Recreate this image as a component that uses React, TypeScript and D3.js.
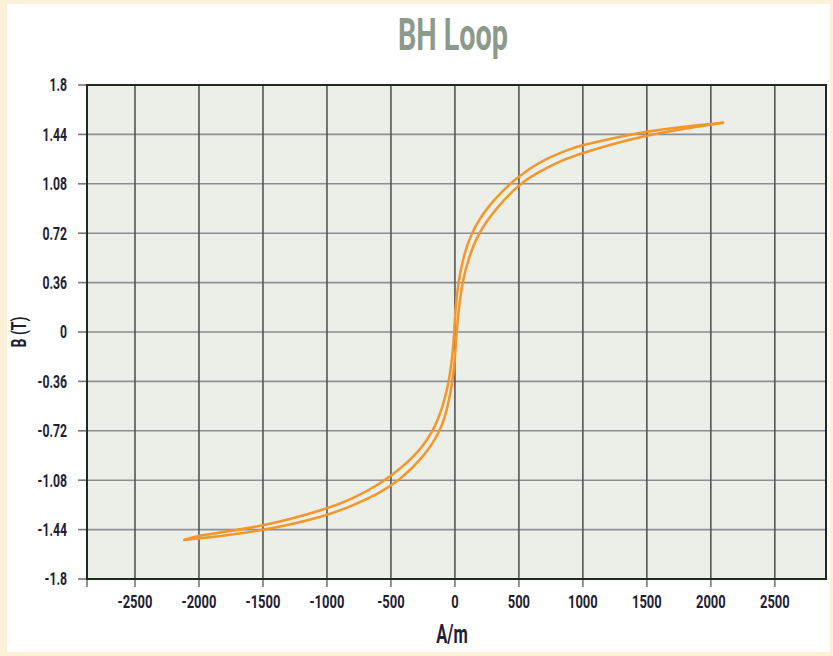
import * as d3 from "d3";

// descending branch (from +Hmax down to -Hmax)
const hDesc = [2095, 2000, 1500, 1000, 935, 701, 507, 429, 247, 125, 65, 26, 5, -5, -20, -45, -95, -165, -310, -500, -620, -800, -1000, -1500, -2000, -2115];
const bDesc = [1.525, 1.518, 1.469, 1.362, 1.345, 1.262, 1.14, 1.08, 0.907, 0.72, 0.545, 0.36, 0.18, 0, -0.18, -0.36, -0.545, -0.72, -0.907, -1.05, -1.125, -1.215, -1.29, -1.42, -1.48, -1.515];

// ascending branch (from -Hmax back up to +Hmax)
const hAsc = [-2115, -2000, -1500, -1000, -800, -600, -429, -240, -110, -55, -18, 2, 13, 31, 57, 109, 182, 325, 507, 623, 818, 1000, 1500, 2000, 2095];
const bAsc = [-1.515, -1.505, -1.45, -1.34, -1.265, -1.18, -1.08, -0.907, -0.72, -0.545, -0.36, -0.18, 0, 0.18, 0.36, 0.545, 0.72, 0.907, 1.08, 1.15, 1.246, 1.307, 1.44, 1.51, 1.525];

const xTicks = [-2500, -2000, -1500, -1000, -500, 0, 500, 1000, 1500, 2000, 2500];
const yTicks = [-1.8, -1.44, -1.08, -0.72, -0.36, 0, 0.36, 0.72, 1.08, 1.44, 1.8];

const W = 833;
const H = 656;
const margin = { left: 87, right: 7, top: 85, bottom: 77 };
const FONT = "Roboto, 'DejaVu Sans', sans-serif";
const INK = "#1d2133";

// condensed text: the original font is a narrow one, squeeze a regular one
const CText = ({
  x,
  y,
  size,
  anchor = "middle",
  sx = 0.7,
  fill = INK,
  rotate,
  dy,
  children,
}: {
  x: number;
  y: number;
  size: number;
  anchor?: string;
  sx?: number;
  fill?: string;
  rotate?: number;
  dy?: string;
  children: React.ReactNode;
}) => (
  <text
    transform={`translate(${x},${y})${rotate ? ` rotate(${rotate})` : ""} scale(${sx},1)`}
    textAnchor={anchor}
    dy={dy}
    fontFamily={FONT}
    fontWeight="bold"
    fontSize={size}
    fill={fill}
  >
    {children}
  </text>
);

export default function App() {
  const x = d3.scaleLinear().domain([-2875, 2900]).range([margin.left, W - margin.right]);
  const y = d3.scaleLinear().domain([-1.8, 1.8]).range([H - margin.bottom, margin.top]);

  const line = d3
    .line<[number, number]>()
    .x((d) => x(d[0]))
    .y((d) => y(d[1]))
    .curve(d3.curveBasis);

  const desc = hDesc.map((h, i) => [h, bDesc[i]] as [number, number]);
  const asc = hAsc.map((h, i) => [h, bAsc[i]] as [number, number]);

  const fmt = (v: number) => String(+v.toFixed(2));
  const [x0, x1] = x.range();
  const [y0, y1] = y.range();

  return (
    <svg width={W} height={H} style={{ position: "absolute", left: 0, top: 0 }}>
      <rect x={0} y={0} width={W} height={H} fill="#fbf0d8" />
      <rect x={7} y={4} width={W - 10} height={H - 8} fill="#ffffff" />

      <CText x={453} y={50} size={45} sx={0.64} fill="#8c9a8b">
        BH Loop
      </CText>

      <rect x={x0} y={y1} width={x1 - x0} height={y0 - y1} fill="#eceee8" />

      {yTicks.map((t) => (
        <line key={"gy" + t} x1={x0} x2={x1} y1={y(t)} y2={y(t)} stroke="#8e8e8e" strokeWidth={1.6} />
      ))}
      {xTicks.map((t) => (
        <line key={"gx" + t} x1={x(t)} x2={x(t)} y1={y1} y2={y0} stroke="#555" strokeWidth={1.6} />
      ))}

      {yTicks.map((t) => (
        <g key={"ty" + t}>
          <line x1={x0 - 9} x2={x0} y1={y(t)} y2={y(t)} stroke="#777" strokeWidth={1.6} />
          <CText x={x0 - 20} y={y(t)} dy="0.36em" anchor="end" size={18} sx={0.68}>
            {fmt(t)}
          </CText>
        </g>
      ))}
      {xTicks.map((t) => (
        <g key={"tx" + t}>
          <line x1={x(t)} x2={x(t)} y1={y0} y2={y0 + 8} stroke="#777" strokeWidth={1.6} />
          <CText x={x(t)} y={y0 + 29} size={18} sx={0.72}>
            {fmt(t)}
          </CText>
        </g>
      ))}
      <line x1={x0} x2={x0} y1={y0} y2={y0 + 8} stroke="#777" strokeWidth={1.6} />

      <rect x={x0} y={y1} width={x1 - x0} height={y0 - y1} fill="none" stroke="#1e2a22" strokeWidth={2} />

      <path d={line(desc) ?? ""} fill="none" stroke="#f4962b" strokeWidth={2.5} strokeLinecap="round" />
      <path d={line(asc) ?? ""} fill="none" stroke="#f4962b" strokeWidth={2.5} strokeLinecap="round" />

      <CText x={452} y={643} size={25} sx={0.66}>
        A/m
      </CText>
      <CText x={26} y={(y0 + y1) / 2} rotate={-90} size={20} sx={0.7}>
        B (T)
      </CText>
    </svg>
  );
}
